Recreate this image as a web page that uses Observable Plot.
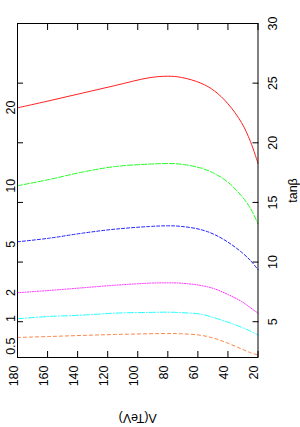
<!DOCTYPE html>
<html>
<head>
<meta charset="utf-8">
<script src="https://cdn.jsdelivr.net/npm/d3@7"></script>
<script src="https://cdn.jsdelivr.net/npm/@observablehq/plot@0.6"></script>
<style>
  html, body { margin: 0; padding: 0; background: #fff; }
  #chart { width: 300px; height: 427px; }
</style>
</head>
<body>
<div id="chart"></div>
<script>
// Λ (TeV) sample positions
const lambda = [180, 159, 137, 115, 92.5, 80, 71, 58, 49, 40, 31, 25, 20];
// tanβ values for each curve
const tanb20  = [22.93, 23.52, 24.16, 24.80, 25.45, 25.58, 25.48, 25.00, 24.35, 23.27, 21.70, 20.10, 18.27];
const tanb10  = [16.40, 16.92, 17.54, 18.01, 18.21, 18.26, 18.20, 17.88, 17.42, 16.70, 15.55, 14.50, 13.20];
const tanb5   = [11.70, 12.00, 12.42, 12.76, 12.98, 13.04, 12.99, 12.72, 12.31, 11.67, 10.83, 10.13, 9.36];
const tanb2   = [7.43, 7.62, 7.84, 8.06, 8.23, 8.26, 8.23, 8.04, 7.76, 7.28, 6.70, 6.17, 5.72];
const tanb1   = [5.25, 5.44, 5.55, 5.72, 5.78, 5.80, 5.76, 5.63, 5.33, 4.96, 4.54, 4.21, 3.88];
const tanb05  = [3.68, 3.76, 3.85, 3.93, 3.99, 4.01, 3.99, 3.86, 3.60, 3.20, 2.72, 2.40, 2.20];

const seriesLabels = ["20", "10", "5", "2", "1", "0.5"];
const seriesValues = [tanb20, tanb10, tanb5, tanb2, tanb1, tanb05];
const labelTanb = [22.95, 16.4, 11.5, 7.45, 5.27, 2.95];
const xTicks = [180, 160, 140, 120, 100, 80, 60, 40, 20];
const yTicks = [5, 10, 15, 20, 25, 30];

const seriesColors = ["#ff2020", "#20ff20", "#2020ff", "#ff20ff", "#20ffff", "#ff7f40"];
const seriesDash = [null, "5,2", "3,2", "1,1.5", "6,2,1,2", "3,3"];

const font = "'Liberation Sans', Arial, sans-serif";
const fs = 12.5;

const lineMarks = seriesLabels.map((s, i) => {
  const rows = lambda.map((l, j) => ({lambda: l, tanb: seriesValues[i][j]}));
  return Plot.line(rows, {
    x: "lambda", y: "tanb",
    stroke: seriesColors[i],
    strokeWidth: 1,
    strokeDasharray: seriesDash[i] || undefined,
    curve: "catmull-rom"
  });
});

const blank = () => "";

const chart = Plot.plot({
  width: 300,
  height: 427,
  marginLeft: 17,
  marginRight: 42.5,
  marginTop: 23,
  marginBottom: 70,
  style: {fontFamily: font, background: "#fff", color: "#000"},
  x: {domain: [180, 20]},
  y: {domain: [2, 30]},
  marks: [
    ...lineMarks,
    Plot.axisX({anchor: "bottom", ticks: xTicks, tickSize: -6, tickFormat: blank, label: null}),
    Plot.axisX({anchor: "top", ticks: xTicks, tickSize: -6, tickFormat: blank, label: null}),
    Plot.axisY({anchor: "left", ticks: yTicks, tickSize: -6, tickFormat: blank, label: null}),
    Plot.axisY({anchor: "right", ticks: yTicks, tickSize: -6, tickFormat: blank, label: null}),
    Plot.frame({stroke: "#000", strokeWidth: 1}),
    Plot.text(xTicks, {x: d => d, text: d => String(d), frameAnchor: "bottom", dy: 8,
      rotate: -90, textAnchor: "end", fontSize: fs, fill: "#000"}),
    Plot.text(yTicks, {y: d => d, text: d => String(d), frameAnchor: "right", dx: 15,
      rotate: -90, textAnchor: "middle", fontSize: fs, fill: "#000"}),
    Plot.text(seriesLabels, {y: (d, i) => labelTanb[i], text: d => d, frameAnchor: "left", dx: -7,
      rotate: -90, textAnchor: "middle", fontSize: fs, fill: "#000"}),
    Plot.text(["tanβ"], {text: d => d, frameAnchor: "right", dx: 35, rotate: -90,
      textAnchor: "middle", fontSize: fs, fill: "#000"}),
    Plot.text(["Λ(TeV)"], {text: d => d, frameAnchor: "bottom", dy: 56, rotate: 180,
      textAnchor: "middle", fontSize: fs, fill: "#000"})
  ]
});
document.getElementById("chart").appendChild(chart);
</script>
</body>
</html>
